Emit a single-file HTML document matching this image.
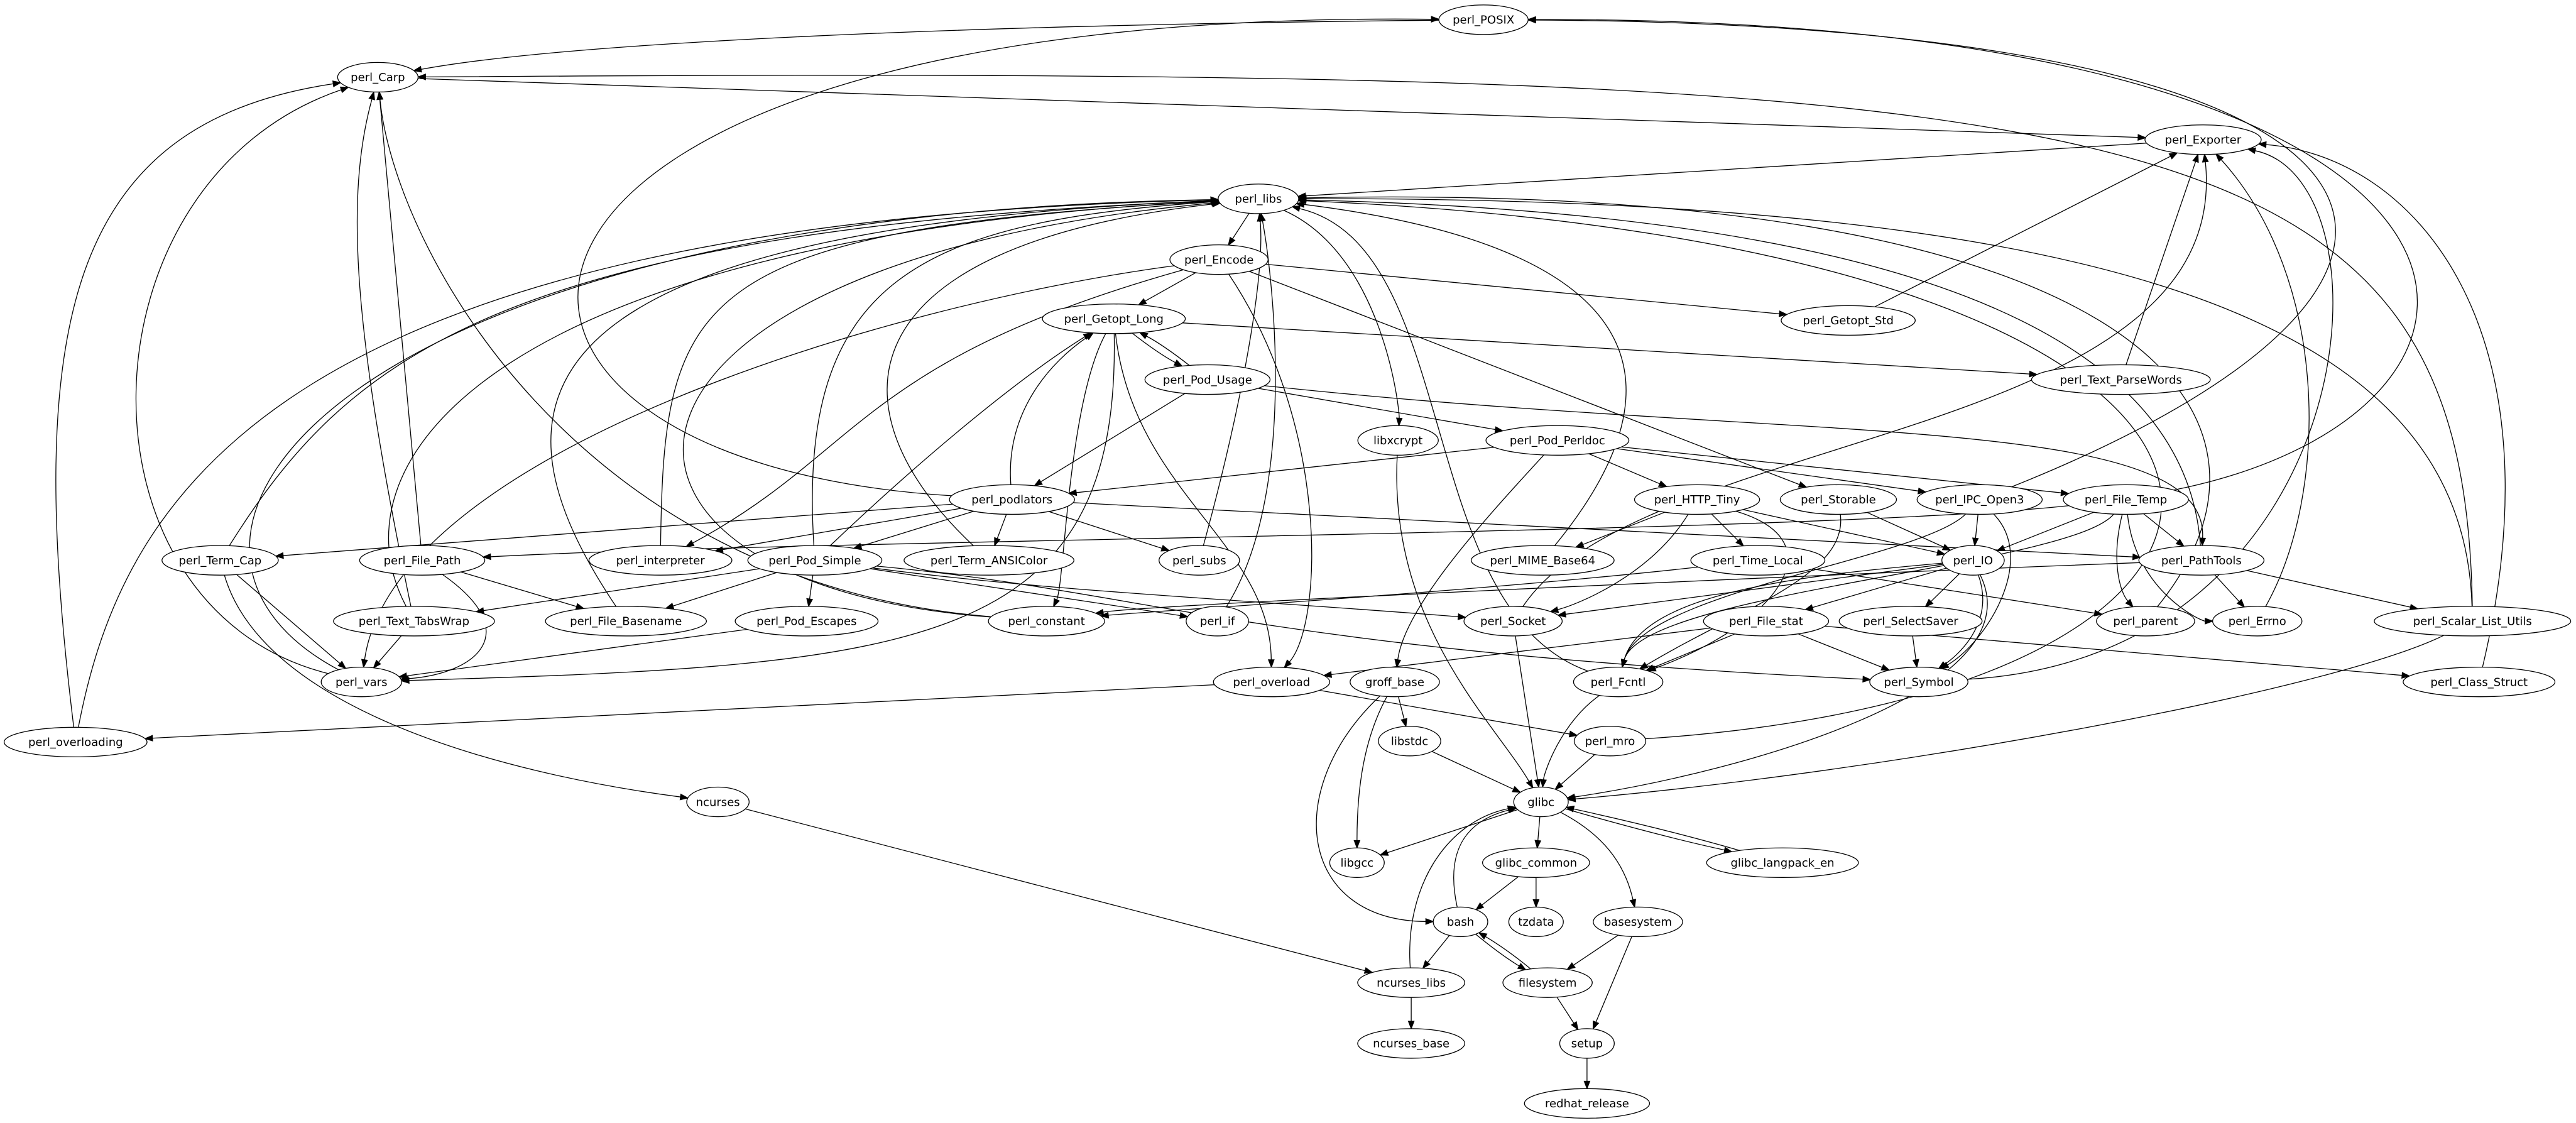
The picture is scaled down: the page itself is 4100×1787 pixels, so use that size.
<!DOCTYPE html>
<html><head><meta charset="utf-8"><style>
html,body{margin:0;padding:0;background:#fff;width:4100px;height:1787px;overflow:hidden}
svg{display:block}
text{font-family:"DejaVu Sans","Liberation Sans",sans-serif;font-size:6.9px;text-anchor:middle;dominant-baseline:central;fill:#000}
</style></head><body>
<svg id="g" xmlns="http://www.w3.org/2000/svg" width="4100" height="1787" viewBox="0 0 1568 683.4"></svg>
<script>
var N={
perl_POSIX:[903,12],perl_Carp:[230,47],perl_Exporter:[1341,85],perl_libs:[766,121],perl_Encode:[742,158],
perl_Getopt_Long:[678,194],perl_Getopt_Std:[1125,195],perl_Pod_Usage:[735,231],perl_Text_ParseWords:[1291,231],
libxcrypt:[851,268],perl_Pod_Perldoc:[948,268],perl_podlators:[616,304],perl_HTTP_Tiny:[1033,304],perl_Storable:[1119,304],
perl_IPC_Open3:[1205,304],perl_File_Temp:[1294,304],perl_Term_Cap:[134,341],perl_File_Path:[257,341],perl_interpreter:[402,341],
perl_Pod_Simple:[496,341],perl_Term_ANSIColor:[602,341],perl_subs:[730,341],perl_MIME_Base64:[939,341],perl_Time_Local:[1070,341],
perl_IO:[1201,341],perl_PathTools:[1340,341],perl_Text_TabsWrap:[252,378],perl_File_Basename:[381,378],perl_Pod_Escapes:[491,378],
perl_constant:[637,378],perl_if:[741,378],perl_Socket:[921,378],perl_File_stat:[1075,378],perl_SelectSaver:[1163,378],
perl_parent:[1306,378],perl_Errno:[1374,378],perl_Scalar_List_Utils:[1505,378],perl_vars:[220,415],perl_overload:[774,415],
groff_base:[849,415],perl_Fcntl:[985,415],perl_Symbol:[1168,415],perl_Class_Struct:[1509,415],perl_overloading:[46,451.6],
libstdc:[858,451],perl_mro:[980,451],ncurses:[437,488],glibc:[938,488],libgcc:[826,525],glibc_common:[935,525],
glibc_langpack_en:[1085,525],bash:[889,561],tzdata:[935,561],basesystem:[997,561],ncurses_libs:[859,598],filesystem:[942,598],
setup:[966,635],ncurses_base:[859,635],redhat_release:[966,671.5]};
var E=[
["perl_podlators","perl_POSIX",[230,280,250,5]],["perl_POSIX","perl_Carp",[600,15,350,25]],
["perl_File_Temp","perl_POSIX",[1565,250,1560,10]],["perl_IPC_Open3","perl_POSIX",[1540,170,1500,15]],
["perl_Carp","perl_Exporter",0],["perl_Scalar_List_Utils","perl_Carp",[1500,60,1300,40]],
["perl_Exporter","perl_libs",0],["perl_libs","perl_Encode",0],["perl_libs","libxcrypt",[842,155,852,250]],
["perl_overloading","perl_libs",[75,300,170,135]],["perl_vars","perl_libs",[60,330,200,130]],
["perl_Term_Cap","perl_libs",[210,220,300,140]],["perl_Text_TabsWrap","perl_libs",[200,280,300,145]],
["perl_File_Basename","perl_libs",[295,250,300,140]],["perl_constant","perl_libs",[330,355,340,160]],
["perl_interpreter","perl_libs",[404,180,420,140]],["perl_Pod_Simple","perl_libs",[485,170,560,135]],
["perl_Term_ANSIColor","perl_libs",[505,250,510,150]],["perl_subs","perl_libs",[755,250,770,170]],
["perl_if","perl_libs",[790,300,775,170]],["perl_Fcntl","perl_libs",[860,370,890,150]],
["perl_MIME_Base64","perl_libs",[1030,230,1000,150]],["perl_PathTools","perl_libs",[1330,200,1150,130]],
["perl_parent","perl_libs",[1410,250,1300,110]],["perl_Scalar_List_Utils","perl_libs",[1500,200,1300,120]],
["perl_mro","perl_libs",[1450,420,1450,150]],
["perl_Encode","perl_Getopt_Long",0],["perl_Encode","perl_Getopt_Std",0],["perl_Encode","perl_Storable",0],
["perl_Encode","perl_overload",[810,260,805,380]],["perl_Encode","perl_interpreter",[522,220,525,275]],
["perl_Encode","perl_vars",[540,185,240,275]],
["perl_Getopt_Long","perl_Pod_Usage",3],["perl_Pod_Usage","perl_Getopt_Long",3],["perl_Getopt_Long","perl_Text_ParseWords",0],
["perl_Getopt_Long","perl_constant",[650,245,648,355]],["perl_Getopt_Long","perl_overload",[690,300,773,330]],
["perl_Getopt_Long","perl_vars",[682,395,560,405]],
["perl_Pod_Usage","perl_Pod_Perldoc",0],["perl_Pod_Usage","perl_podlators",0],["perl_Pod_Usage","perl_PathTools",[1100,270,1345,250]],
["perl_Getopt_Std","perl_Exporter",0],["perl_Text_ParseWords","perl_Exporter",0],
["perl_Pod_Perldoc","perl_podlators",0],["perl_Pod_Perldoc","perl_HTTP_Tiny",0],["perl_Pod_Perldoc","perl_IPC_Open3",0],
["perl_Pod_Perldoc","perl_File_Temp",0],["perl_Pod_Perldoc","groff_base",[900,320,855,370]],
["perl_podlators","perl_Getopt_Long",[612,250,640,220]],["perl_podlators","perl_Term_Cap",0],["perl_podlators","perl_interpreter",0],
["perl_podlators","perl_Pod_Simple",0],["perl_podlators","perl_Term_ANSIColor",0],["perl_podlators","perl_subs",0],["perl_podlators","perl_PathTools",0],
["perl_HTTP_Tiny","perl_MIME_Base64",0],["perl_HTTP_Tiny","perl_Time_Local",0],["perl_HTTP_Tiny","perl_Socket",[1005,350,960,368]],
["perl_HTTP_Tiny","perl_IO",0],["perl_HTTP_Tiny","perl_Fcntl",[1120,330,1080,380]],
["perl_Storable","perl_IO",0],["perl_Storable","perl_Fcntl",[1125,350,1060,370]],
["perl_IPC_Open3","perl_IO",0],["perl_IPC_Open3","perl_Symbol",[1240,340,1210,390]],["perl_IPC_Open3","perl_Fcntl",[1170,340,1000,360]],
["perl_File_Temp","perl_IO",0],["perl_File_Temp","perl_PathTools",0],["perl_File_Temp","perl_parent",[1285,340,1290,360]],["perl_File_Temp","perl_Errno",[1300,360,1340,378]],
["perl_File_Temp","perl_Fcntl",[1260,345,1000,360]],["perl_File_Temp","perl_File_Path",[1100,325,500,328]],
["perl_Term_Cap","perl_vars",0],["perl_Term_Cap","ncurses",[160,430,300,470]],
["perl_File_Path","perl_Carp",0],["perl_File_Path","perl_File_Basename",0],["perl_File_Path","perl_vars",[320,385,290,410]],
["perl_Text_TabsWrap","perl_vars",0],["perl_Text_TabsWrap","perl_Carp",[215,200,210,120]],
["perl_Pod_Simple","perl_Text_TabsWrap",0],["perl_Pod_Simple","perl_File_Basename",0],
["perl_Pod_Simple","perl_Pod_Escapes",0],["perl_Pod_Simple","perl_if",0],["perl_Pod_Simple","perl_Symbol",[700,360,760,395]],
["perl_Pod_Simple","perl_Socket",[640,360,760,365]],["perl_Pod_Simple","perl_Getopt_Long",[560,280,620,230]],
["perl_Pod_Escapes","perl_vars",0],["perl_constant","perl_Carp",[350,355,240,150]],["perl_vars","perl_Carp",[40,370,45,110]],
["perl_overloading","perl_Carp",[15,200,40,75]],
["perl_Time_Local","perl_constant",[900,360,700,372]],["perl_PathTools","perl_constant",[1100,350,700,368]],["perl_Time_Local","perl_parent",0],
["perl_IO","perl_Socket",0],["perl_IO","perl_File_stat",0],["perl_IO","perl_SelectSaver",0],["perl_IO","perl_Symbol",[1215,380,1190,400]],
["perl_IO","perl_Fcntl",[1100,350,1000,360]],["perl_IO","glibc",[1240,420,1060,470]],["perl_Socket","glibc",0],
["perl_Socket","perl_Exporter",[1000,260,1360,270]],
["perl_File_stat","perl_overload",0],["perl_File_stat","perl_Fcntl",0],["perl_File_stat","perl_Symbol",0],["perl_File_stat","perl_Class_Struct",0],
["perl_SelectSaver","perl_Symbol",0],["perl_Symbol","perl_Exporter",[1440,400,1460,110]],["perl_Errno","perl_Exporter",[1418,300,1418,170]],
["perl_PathTools","perl_Errno",0],["perl_PathTools","perl_Scalar_List_Utils",0],
["perl_Scalar_List_Utils","glibc",[1420,420,1150,470]],["perl_Class_Struct","perl_Exporter",[1560,200,1470,95]],
["perl_overload","perl_overloading",0],["perl_overload","perl_mro",0],
["groff_base","libstdc",0],["groff_base","libgcc",[830,450,826,480]],["groff_base","bash",[780,480,790,560]],
["libxcrypt","glibc",[845,380,910,440]],["perl_Fcntl","glibc",[950,440,940,470]],["perl_mro","glibc",0],["libstdc","glibc",0],["ncurses","ncurses_libs",0],
["glibc","libgcc",0],["glibc","glibc_common",0],["glibc","basesystem",[980,510,990,530]],["glibc","glibc_langpack_en",2.5],["glibc_langpack_en","glibc",2.5],
["glibc_common","bash",0],["glibc_common","tzdata",0],["bash","glibc",[880,520,890,500]],["bash","ncurses_libs",0],["bash","filesystem",2.5],["filesystem","bash",2.5],
["filesystem","setup",0],["basesystem","filesystem",0],["basesystem","setup",0],["ncurses_libs","glibc",[855,540,880,500]],["ncurses_libs","ncurses_base",0],
["setup","redhat_release",0]];
var RY=9;
function rx(n){return Math.max(n.length*2.72,16.6);}
var s="";
function clip(c,r,tx,ty){var dx=tx-c[0],dy=ty-c[1];var t=1/Math.sqrt((dx/r)*(dx/r)+(dy/RY)*(dy/RY));if(t>1)t=1;return [c[0]+dx*t,c[1]+dy*t];}
function f(v){return v.toFixed(1);}
E.forEach(function(e){
 var a=N[e[0]],b=N[e[1]];if(!a||!b)return;
 var k=e[2],c1,c2,p0,p1,cub=false;
 if(typeof k==="object"){cub=true;c1=[k[0],k[1]];c2=[k[2],k[3]];}
 else{var mx=(a[0]+b[0])/2,my=(a[1]+b[1])/2,dx=b[0]-a[0],dy=b[1]-a[1],L=Math.sqrt(dx*dx+dy*dy);
  c1=[mx-dy/L*k,my+dx/L*k];c2=c1;}
 p0=clip(a,rx(e[0]),c1[0],c1[1]);p1=clip(b,rx(e[1]),c2[0],c2[1]);
 var ux=p1[0]-c2[0],uy=p1[1]-c2[1],ul=Math.sqrt(ux*ux+uy*uy)||1;ux/=ul;uy/=ul;
 var bx=p1[0]-ux*4.5,by=p1[1]-uy*4.5,d;
 if(cub) d="M"+f(p0[0])+","+f(p0[1])+"C"+f(c1[0])+","+f(c1[1])+" "+f(c2[0])+","+f(c2[1])+" "+f(bx)+","+f(by);
 else if(Math.abs(k)<0.01) d="M"+f(p0[0])+","+f(p0[1])+"L"+f(bx)+","+f(by);
 else d="M"+f(p0[0])+","+f(p0[1])+"Q"+f(c1[0])+","+f(c1[1])+" "+f(bx)+","+f(by);
 s+='<path d="'+d+'" fill="none" stroke="#000" stroke-width="0.5"/>';
 s+='<polygon points="'+f(p1[0])+','+f(p1[1])+' '+f(bx+uy*1.7)+','+f(by-ux*1.7)+' '+f(bx-uy*1.7)+','+f(by+ux*1.7)+'" fill="#000" stroke="#000" stroke-width="0.5"/>';
});
for(var n in N){var c=N[n];
 s+='<ellipse cx="'+c[0]+'" cy="'+c[1]+'" rx="'+f(rx(n))+'" ry="'+RY+'" fill="#fff" stroke="#000" stroke-width="0.5"/>';
 s+='<text x="'+c[0]+'" y="'+(c[1]+0.3)+'">'+n+'</text>';}
document.getElementById("g").innerHTML=s;
</script>
</body></html>
